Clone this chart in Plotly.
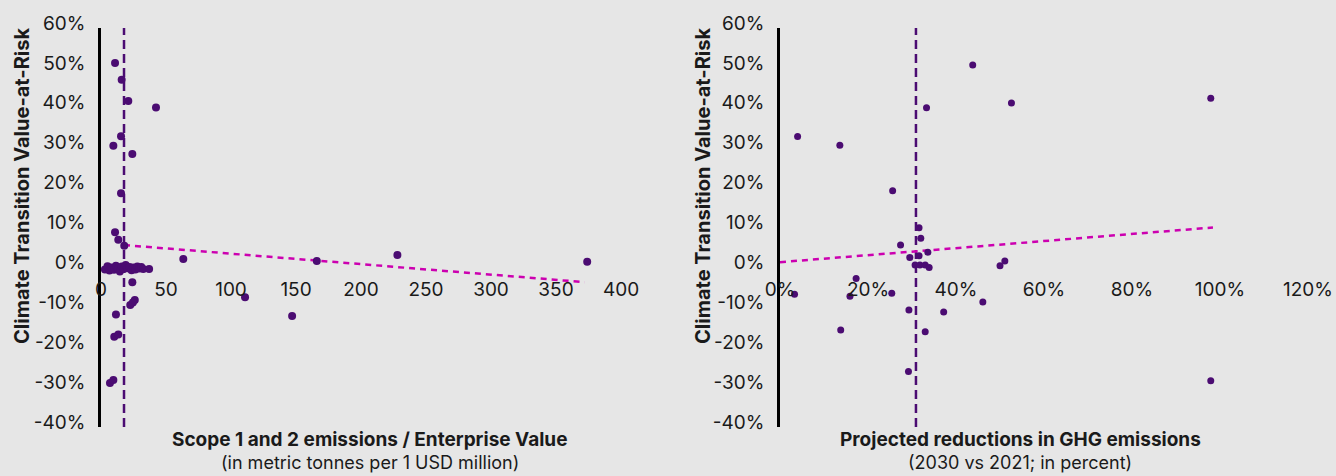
import plotly.graph_objects as go

# ---- data: emissions intensity vs. transition VaR ----
ev_intensity = [10.8, 15.9, 21.0, 42.3, 15.4, 9.5, 24.1, 15.4, 10.8, 13.3, 17.9, 63.3,
                3.0, 5.0, 6.5, 8.0, 10.0, 11.5, 13.0, 14.5, 16.0, 17.5, 19.0, 20.5, 22.0,
                23.5, 25.0, 26.5, 28.0, 29.5, 31.0, 32.5, 37.0,
                24.1, 26.0, 22.5, 24.5, 11.5, 10.2, 13.3, 6.9, 9.5,
                110.8, 147.0, 166.0, 228.0, 374.0]
ev_var = [51.2, 47.0, 41.7, 40.1, 32.9, 30.5, 28.4, 18.6, 8.8, 6.9, 5.4, 2.1,
          -0.5, 0.3, -0.8, 0.0, -0.6, 0.4, -0.3, -1.0, 0.2, -0.4, 0.6, -0.2, 0.1,
          -0.7, 0.0, -0.5, 0.2, -0.3, 0.1, -0.4, -0.4,
          -3.7, -8.2, -9.4, -8.8, -11.8, -17.4, -16.8, -29.0, -28.2,
          -7.5, -12.2, 1.6, 3.1, 1.4]
ev_mean = 17.7
ev_trend_x = [17.7, 372.0]
ev_trend_y = [5.6, -3.7]

# ---- data: projected GHG reductions vs. transition VaR ----
ghg_reduction = [4.0, 13.6, 43.8, 33.3, 52.6, 25.6, 31.6, 32.0, 27.4, 33.6, 29.5, 31.6,
                 30.7, 31.8, 33.0, 33.9, 50.0, 51.1, 17.3, 3.3, 15.9, 25.4, 46.1, 29.3,
                 37.2, 13.8, 33.0, 29.2, 97.9, 97.9]
ghg_var = [32.8, 30.6, 50.7, 40.0, 41.2, 19.2, 9.95, 7.3, 5.6, 3.8, 2.5, 2.9,
           0.6, 0.6, 0.6, 0.0, 0.4, 1.6, -2.8, -6.7, -7.2, -6.5, -8.7, -10.7,
           -11.2, -15.7, -16.1, -26.1, 42.4, -28.4]
ghg_mean = 30.9
ghg_trend_x = [0.0, 98.4]
ghg_trend_y = [1.3, 10.0]

# ---- axis ticks ----
y_range = [-40, 60]
y_ticks = [-40, -30, -20, -10, 0, 10, 20, 30, 40, 50, 60]
y_tick_labels = ["-40%", "-30%", "-20%", "-10%", "0%", "10%", "20%", "30%", "40%", "50%", "60%"]
left_x_ticks = [0, 50, 100, 150, 200, 250, 300, 350, 400]
left_x_labels = ["0", "50", "100", "150", "200", "250", "300", "350", "400"]
right_x_ticks = [0, 20, 40, 60, 80, 100, 120]
right_x_labels = ["0%", "20%", "40%", "60%", "80%", "100%", "120%"]

BG = "#e6e6e6"
DOT = "#4b0c72"
TREND = "#cc00b0"
FONT = "Inter"
INK = "#1a1a1a"
W, H = 1336, 476

fig = go.Figure()

# left panel
fig.add_trace(go.Scatter(x=[ev_mean, ev_mean], y=y_range, mode="lines",
                         line=dict(color=DOT, width=2.5, dash="9px,5px"),
                         xaxis="x", yaxis="y", showlegend=False, hoverinfo="skip"))
fig.add_trace(go.Scatter(x=ev_trend_x, y=ev_trend_y, mode="lines",
                         line=dict(color=TREND, width=2.5, dash="6px,5px"),
                         xaxis="x", yaxis="y", showlegend=False, hoverinfo="skip"))
fig.add_trace(go.Scatter(x=ev_intensity, y=ev_var, mode="markers",
                         marker=dict(color=DOT, size=8),
                         xaxis="x", yaxis="y", showlegend=False))

# right panel
fig.add_trace(go.Scatter(x=[ghg_mean, ghg_mean], y=y_range, mode="lines",
                         line=dict(color=DOT, width=2.5, dash="9px,5px"),
                         xaxis="x2", yaxis="y2", showlegend=False, hoverinfo="skip"))
fig.add_trace(go.Scatter(x=ghg_trend_x, y=ghg_trend_y, mode="lines",
                         line=dict(color=TREND, width=2.5, dash="6px,5px"),
                         xaxis="x2", yaxis="y2", showlegend=False, hoverinfo="skip"))
fig.add_trace(go.Scatter(x=ghg_reduction, y=ghg_var, mode="markers",
                         marker=dict(color=DOT, size=7),
                         xaxis="x2", yaxis="y2", showlegend=False))

y_dom = [1 - 427 / H, 1 - 28 / H]
zero_pos = y_dom[0] + (0 - y_range[0]) / (y_range[1] - y_range[0]) * (y_dom[1] - y_dom[0])
tick_font = dict(family=FONT, size=19, color=INK)

yaxis_common = dict(range=y_range, tickmode="array", tickvals=y_ticks, ticktext=y_tick_labels,
                    showgrid=False, zeroline=False, showline=True,
                    linecolor="#000000", linewidth=2.5, ticks="",
                    tickfont=tick_font, ticklabelstandoff=9, ticklabelshift=-5,
                    automargin=False, domain=y_dom, fixedrange=True)
xaxis_common = dict(showgrid=False, zeroline=False, showline=False, ticks="",
                    tickfont=tick_font, automargin=False, anchor="free",
                    position=zero_pos, ticklabelstandoff=9, fixedrange=True,
                    tickmode="array")

fig.update_layout(
    width=W, height=H,
    margin=dict(l=0, r=0, t=0, b=0),
    paper_bgcolor=BG, plot_bgcolor=BG,
    font=dict(family=FONT, color=INK),
    xaxis=dict(**xaxis_common, range=[0, 400], tickvals=left_x_ticks,
               ticktext=left_x_labels, domain=[101 / W, 621 / W]),
    yaxis=dict(**yaxis_common, anchor="x"),
    xaxis2=dict(**xaxis_common, range=[0, 120], tickvals=right_x_ticks,
                ticktext=right_x_labels, domain=[780 / W, 1308 / W]),
    yaxis2=dict(**yaxis_common, anchor="x2"),
)

title_font = dict(family=FONT, size=20, color=INK)
xtitle_font = dict(family=FONT, size=19, color=INK)
sub_font = dict(family=FONT, size=18, color=INK)


def px(x, y):
    return x / W, 1 - y / H


annotations = [
    (22, 186, "<b>Climate Transition Value-at-Risk</b>", -90, title_font),
    (703, 186, "<b>Climate Transition Value-at-Risk</b>", -90, title_font),
    (369, 439, "<b>Scope 1 and 2 emissions / Enterprise Value</b>", 0, xtitle_font),
    (370, 462, "(in metric tonnes per 1 USD million)", 0, sub_font),
    (1020, 439, "<b>Projected reductions in GHG emissions</b>", 0, xtitle_font),
    (1020, 462, "(2030 vs 2021; in percent)", 0, sub_font),
]
for x, y, text, angle, f in annotations:
    ax, ay = px(x, y)
    fig.add_annotation(x=ax, y=ay, xref="paper", yref="paper", text=text,
                       textangle=angle, showarrow=False, font=f,
                       xanchor="center", yanchor="middle")

fig.write_html("out.html")
